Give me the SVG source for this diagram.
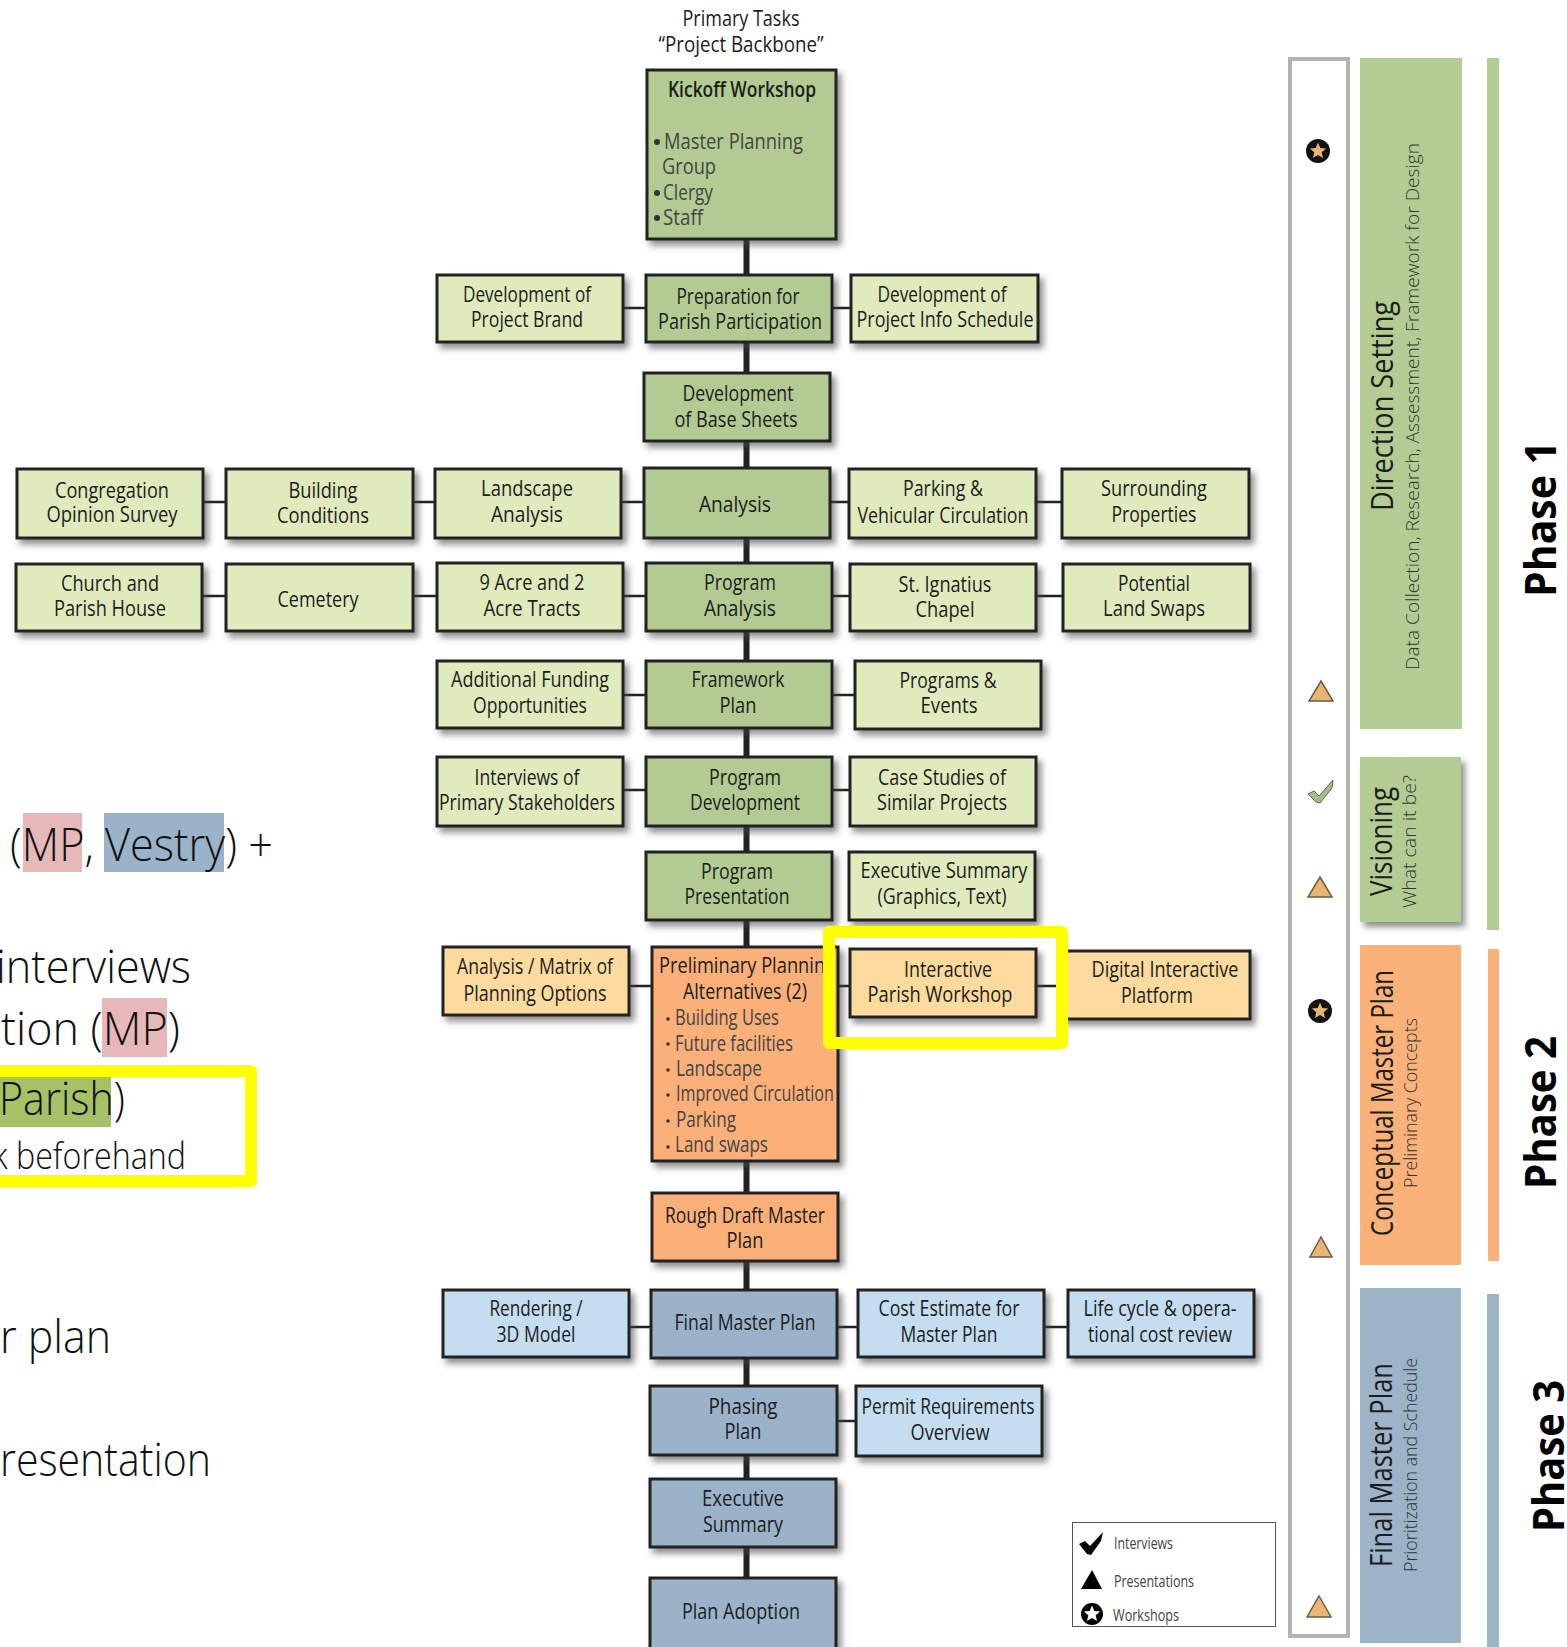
<svg xmlns="http://www.w3.org/2000/svg" xmlns:xlink="http://www.w3.org/1999/xlink" width="1567" height="1647" viewBox="0 0 1567 1647">
<style>
text{font-family:"Open Sans","Liberation Sans",sans-serif;fill:#1c1c1c}
.t{font-size:21px;text-anchor:middle}
.b{font-size:21px;fill:#444}
.box{stroke:#222;stroke-width:3;filter:url(#sh)}
.dg{fill:#B2CB93}.lg{fill:#E0EBBD}.do{fill:#FBB07A}.lo{fill:#FDDB9E}.db{fill:#9AB3C8}.lb{fill:#C5DDF0}
.spine{stroke:#222;stroke-width:6;fill:none}
.link{stroke:#222;stroke-width:2.5;fill:none}
.yel{fill:none;stroke:#FFFF00;stroke-width:12;stroke-linejoin:round}
.big{font-size:46px;font-weight:300;fill:#111}
.rt{font-size:31px;font-weight:500}
.rs{font-size:19px;font-weight:300;fill:#333}
.ph{font-size:43px;font-weight:700;fill:#000}
.lt{font-size:16px;fill:#444}
.tri{fill:#E9B572;stroke:#6B5A48;stroke-width:1.5}
</style>
<defs>
<filter id="sh" x="-10%" y="-15%" width="125%" height="135%"><feDropShadow dx="4" dy="5" stdDeviation="3" flood-color="#444" flood-opacity=".6"/></filter>
<polygon id="star" points="0,-8.5 2.3,-3.1 8.1,-2.6 3.7,1.2 5,6.9 0,3.9 -5,6.9 -3.7,1.2 -8.1,-2.6 -2.3,-3.1"/>
</defs>
<rect width="1567" height="1647" fill="#fff"/>

<g id="left-text">
<rect x="23" y="813" width="59" height="59" fill="#E6B8B7"/>
<rect x="104" y="813" width="120" height="59" fill="#9AB3C8"/>
<rect x="102" y="998" width="65" height="59" fill="#E6B8B7"/>
<rect x="0" y="1077" width="111" height="50" fill="#A5C267"/>
<text class="big" x="10" y="861" textLength="263" lengthAdjust="spacingAndGlyphs">(MP, Vestry) +</text>
<text class="big" x="-4" y="983" textLength="195" lengthAdjust="spacingAndGlyphs">interviews</text>
<text class="big" x="1" y="1045" textLength="179" lengthAdjust="spacingAndGlyphs">tion (MP)</text>
<text class="big" x="-1" y="1115" textLength="126" lengthAdjust="spacingAndGlyphs">Parish)</text>
<text class="big" x="-8" y="1169" textLength="194" lengthAdjust="spacingAndGlyphs" style="font-size:36px">k beforehand</text>
<text class="big" x="0" y="1353" textLength="111" lengthAdjust="spacingAndGlyphs">r plan</text>
<text class="big" x="0" y="1476" textLength="211" lengthAdjust="spacingAndGlyphs">resentation</text>
</g>

<g id="connectors">
<path class="spine" d="M746.5 239V275M746.5 342V373M746.5 441V468M746.5 538V563M746.5 631V661M746.5 728V757M746.5 826V852M746.5 920V947M746.5 1161V1193M746.5 1261V1290M746.5 1358V1386M746.5 1455V1479M746.5 1547V1578"/>
<path class="link" d="M623 308H646M832 308H851M203 502H226M413 502H435M621 502H644M830 502H849M1036 502H1062M202 596H226M413 596H437M623 596H646M832 596H850M1036 596H1063M623 695H646M832 695H855M623 790H646M832 790H850M629 986H652M838 986H850M1036 986H1063M629 1327H651M837 1327H858M1044 1327H1068M837 1421H856"/>
</g>

<g id="kickoff"><rect class="box dg" x="647" y="70" width="189" height="169"/>
<text class="t" x="742" y="97" textLength="148" lengthAdjust="spacingAndGlyphs" style="font-weight:600">Kickoff Workshop</text>
<circle cx="657" cy="142" r="3" fill="#333"/><circle cx="657" cy="193" r="3" fill="#333"/><circle cx="657" cy="218" r="3" fill="#333"/>
<text class="b" x="664" y="149" textLength="139" lengthAdjust="spacingAndGlyphs">Master Planning</text>
<text class="b" x="662" y="174" textLength="54" lengthAdjust="spacingAndGlyphs">Group</text>
<text class="b" x="663" y="200" textLength="50" lengthAdjust="spacingAndGlyphs">Clergy</text>
<text class="b" x="663" y="225" textLength="40" lengthAdjust="spacingAndGlyphs">Staff</text></g>
<g id="title"><text class="t" x="741" y="26" textLength="117" lengthAdjust="spacingAndGlyphs">Primary Tasks</text>
<text class="t" x="741" y="52" textLength="165" lengthAdjust="spacingAndGlyphs">“Project Backbone”</text></g>

<g id="prep"><rect class="box dg" x="646" y="275" width="186" height="67"/><text class="t" x="738" y="304" textLength="123" lengthAdjust="spacingAndGlyphs">Preparation for</text><text class="t" x="740" y="329" textLength="164" lengthAdjust="spacingAndGlyphs">Parish Participation</text></g>
<g id="brand"><rect class="box lg" x="437" y="275" width="186" height="67"/><text class="t" x="527" y="302" textLength="128" lengthAdjust="spacingAndGlyphs">Development of</text><text class="t" x="527" y="327" textLength="112" lengthAdjust="spacingAndGlyphs">Project Brand</text></g>
<g id="info"><rect class="box lg" x="851" y="275" width="187" height="67"/><text class="t" x="942" y="302" textLength="129" lengthAdjust="spacingAndGlyphs">Development of</text><text class="t" x="945" y="327" textLength="177" lengthAdjust="spacingAndGlyphs">Project Info Schedule</text></g>
<g id="base"><rect class="box dg" x="644" y="373" width="186" height="68"/><text class="t" x="738" y="401" textLength="111" lengthAdjust="spacingAndGlyphs">Development</text><text class="t" x="736" y="427" textLength="123" lengthAdjust="spacingAndGlyphs">of Base Sheets</text></g>

<g id="analysis"><rect class="box dg" x="644" y="468" width="186" height="70"/><text class="t" x="735" y="512" textLength="72" lengthAdjust="spacingAndGlyphs">Analysis</text></g>
<g id="landscape"><rect class="box lg" x="435" y="469" width="186" height="69"/><text class="t" x="527" y="496" textLength="92" lengthAdjust="spacingAndGlyphs">Landscape</text><text class="t" x="527" y="522" textLength="72" lengthAdjust="spacingAndGlyphs">Analysis</text></g>
<g id="building"><rect class="box lg" x="226" y="469" width="187" height="69"/><text class="t" x="323" y="498" textLength="69" lengthAdjust="spacingAndGlyphs">Building</text><text class="t" x="323" y="523" textLength="92" lengthAdjust="spacingAndGlyphs">Conditions</text></g>
<g id="congregation"><rect class="box lg" x="17" y="469" width="186" height="69"/><text class="t" x="112" y="498" textLength="114" lengthAdjust="spacingAndGlyphs">Congregation</text><text class="t" x="112" y="522" textLength="131" lengthAdjust="spacingAndGlyphs">Opinion Survey</text></g>
<g id="parking"><rect class="box lg" x="849" y="469" width="187" height="69"/><text class="t" x="943" y="496" textLength="80" lengthAdjust="spacingAndGlyphs">Parking &amp;</text><text class="t" x="943" y="523" textLength="171" lengthAdjust="spacingAndGlyphs">Vehicular Circulation</text></g>
<g id="surrounding"><rect class="box lg" x="1062" y="469" width="187" height="69"/><text class="t" x="1154" y="496" textLength="106" lengthAdjust="spacingAndGlyphs">Surrounding</text><text class="t" x="1154" y="522" textLength="85" lengthAdjust="spacingAndGlyphs">Properties</text></g>

<g id="program-analysis"><rect class="box dg" x="646" y="563" width="186" height="68"/><text class="t" x="740" y="590" textLength="72" lengthAdjust="spacingAndGlyphs">Program</text><text class="t" x="740" y="616" textLength="72" lengthAdjust="spacingAndGlyphs">Analysis</text></g>
<g id="tracts"><rect class="box lg" x="437" y="563" width="186" height="68"/><text class="t" x="532" y="590" textLength="105" lengthAdjust="spacingAndGlyphs">9 Acre and 2</text><text class="t" x="532" y="616" textLength="97" lengthAdjust="spacingAndGlyphs">Acre Tracts</text></g>
<g id="cemetery"><rect class="box lg" x="226" y="564" width="187" height="67"/><text class="t" x="318" y="607" textLength="81" lengthAdjust="spacingAndGlyphs">Cemetery</text></g>
<g id="church"><rect class="box lg" x="16" y="564" width="186" height="67"/><text class="t" x="110" y="591" textLength="98" lengthAdjust="spacingAndGlyphs">Church and</text><text class="t" x="110" y="616" textLength="112" lengthAdjust="spacingAndGlyphs">Parish House</text></g>
<g id="chapel"><rect class="box lg" x="850" y="564" width="186" height="67"/><text class="t" x="945" y="592" textLength="93" lengthAdjust="spacingAndGlyphs">St. Ignatius</text><text class="t" x="945" y="617" textLength="59" lengthAdjust="spacingAndGlyphs">Chapel</text></g>
<g id="swaps"><rect class="box lg" x="1063" y="564" width="187" height="67"/><text class="t" x="1154" y="591" textLength="72" lengthAdjust="spacingAndGlyphs">Potential</text><text class="t" x="1154" y="616" textLength="102" lengthAdjust="spacingAndGlyphs">Land Swaps</text></g>

<g id="framework"><rect class="box dg" x="646" y="661" width="186" height="67"/><text class="t" x="738" y="687" textLength="93" lengthAdjust="spacingAndGlyphs">Framework</text><text class="t" x="738" y="713" textLength="37" lengthAdjust="spacingAndGlyphs">Plan</text></g>
<g id="funding"><rect class="box lg" x="437" y="661" width="186" height="67"/><text class="t" x="530" y="687" textLength="158" lengthAdjust="spacingAndGlyphs">Additional Funding</text><text class="t" x="530" y="713" textLength="114" lengthAdjust="spacingAndGlyphs">Opportunities</text></g>
<g id="events"><rect class="box lg" x="855" y="661" width="186" height="68"/><text class="t" x="948" y="688" textLength="97" lengthAdjust="spacingAndGlyphs">Programs &amp;</text><text class="t" x="949" y="713" textLength="57" lengthAdjust="spacingAndGlyphs">Events</text></g>

<g id="program-dev"><rect class="box dg" x="646" y="757" width="186" height="69"/><text class="t" x="745" y="785" textLength="72" lengthAdjust="spacingAndGlyphs">Program</text><text class="t" x="745" y="810" textLength="110" lengthAdjust="spacingAndGlyphs">Development</text></g>
<g id="stakeholders"><rect class="box lg" x="437" y="757" width="186" height="69"/><text class="t" x="527" y="785" textLength="105" lengthAdjust="spacingAndGlyphs">Interviews of</text><text class="t" x="527" y="810" textLength="176" lengthAdjust="spacingAndGlyphs">Primary Stakeholders</text></g>
<g id="case"><rect class="box lg" x="850" y="757" width="186" height="69"/><text class="t" x="942" y="785" textLength="128" lengthAdjust="spacingAndGlyphs">Case Studies of</text><text class="t" x="942" y="810" textLength="130" lengthAdjust="spacingAndGlyphs">Similar Projects</text></g>

<g id="presentation"><rect class="box dg" x="646" y="852" width="186" height="68"/><text class="t" x="737" y="879" textLength="72" lengthAdjust="spacingAndGlyphs">Program</text><text class="t" x="737" y="904" textLength="105" lengthAdjust="spacingAndGlyphs">Presentation</text></g>
<g id="summary"><rect class="box lg" x="849" y="852" width="186" height="68"/><text class="t" x="944" y="878" textLength="167" lengthAdjust="spacingAndGlyphs">Executive Summary</text><text class="t" x="942" y="904" textLength="129" lengthAdjust="spacingAndGlyphs">(Graphics, Text)</text></g>

<g id="prelim"><rect class="box do" x="652" y="947" width="186" height="214"/>
<text class="t" x="747" y="973" textLength="176" lengthAdjust="spacingAndGlyphs">Preliminary Planning</text><text class="t" x="745" y="999" textLength="124" lengthAdjust="spacingAndGlyphs">Alternatives (2)</text>
<g fill="#333"><circle cx="668" cy="1019" r="1.8"/><circle cx="668" cy="1044" r="1.8"/><circle cx="668" cy="1070" r="1.8"/><circle cx="668" cy="1095" r="1.8"/><circle cx="668" cy="1121" r="1.8"/><circle cx="668" cy="1147" r="1.8"/></g>
<text class="b" x="675" y="1025" textLength="104" lengthAdjust="spacingAndGlyphs">Building Uses</text>
<text class="b" x="675" y="1051" textLength="118" lengthAdjust="spacingAndGlyphs">Future facilities</text>
<text class="b" x="676" y="1076" textLength="86" lengthAdjust="spacingAndGlyphs">Landscape</text>
<text class="b" x="676" y="1101" textLength="158" lengthAdjust="spacingAndGlyphs">Improved Circulation</text>
<text class="b" x="676" y="1127" textLength="60" lengthAdjust="spacingAndGlyphs">Parking</text>
<text class="b" x="675" y="1152" textLength="93" lengthAdjust="spacingAndGlyphs">Land swaps</text></g>
<g id="matrix"><rect class="box lo" x="443" y="947" width="186" height="68"/><text class="t" x="535" y="974" textLength="156" lengthAdjust="spacingAndGlyphs">Analysis / Matrix of</text><text class="t" x="535" y="1001" textLength="143" lengthAdjust="spacingAndGlyphs">Planning Options</text></g>
<g id="platform"><rect class="box lo" x="1063" y="951" width="187" height="68"/><text class="t" x="1165" y="977" textLength="147" lengthAdjust="spacingAndGlyphs">Digital Interactive</text><text class="t" x="1157" y="1003" textLength="72" lengthAdjust="spacingAndGlyphs">Platform</text></g>
<g id="workshop"><rect class="box lo" x="850" y="949" width="186" height="68"/><text class="t" x="948" y="977" textLength="88" lengthAdjust="spacingAndGlyphs">Interactive</text><text class="t" x="940" y="1002" textLength="145" lengthAdjust="spacingAndGlyphs">Parish Workshop</text></g>

<g id="rough"><rect class="box do" x="652" y="1193" width="186" height="68"/><text class="t" x="745" y="1223" textLength="160" lengthAdjust="spacingAndGlyphs">Rough Draft Master</text><text class="t" x="745" y="1248" textLength="37" lengthAdjust="spacingAndGlyphs">Plan</text></g>
<g id="final"><rect class="box db" x="651" y="1290" width="186" height="68"/><text class="t" x="745" y="1330" textLength="141" lengthAdjust="spacingAndGlyphs">Final Master Plan</text></g>
<g id="rendering"><rect class="box lb" x="443" y="1290" width="186" height="67"/><text class="t" x="536" y="1316" textLength="93" lengthAdjust="spacingAndGlyphs">Rendering /</text><text class="t" x="536" y="1342" textLength="79" lengthAdjust="spacingAndGlyphs">3D Model</text></g>
<g id="cost"><rect class="box lb" x="858" y="1290" width="186" height="67"/><text class="t" x="949" y="1316" textLength="141" lengthAdjust="spacingAndGlyphs">Cost Estimate for</text><text class="t" x="949" y="1342" textLength="97" lengthAdjust="spacingAndGlyphs">Master Plan</text></g>
<g id="lifecycle"><rect class="box lb" x="1068" y="1290" width="186" height="67"/><text class="t" x="1160" y="1316" textLength="153" lengthAdjust="spacingAndGlyphs">Life cycle &amp; opera-</text><text class="t" x="1160" y="1342" textLength="144" lengthAdjust="spacingAndGlyphs">tional cost review</text></g>
<g id="phasing"><rect class="box db" x="650" y="1386" width="187" height="69"/><text class="t" x="743" y="1414" textLength="69" lengthAdjust="spacingAndGlyphs">Phasing</text><text class="t" x="743" y="1439" textLength="37" lengthAdjust="spacingAndGlyphs">Plan</text></g>
<g id="permit"><rect class="box lb" x="856" y="1386" width="186" height="70"/><text class="t" x="948" y="1414" textLength="173" lengthAdjust="spacingAndGlyphs">Permit Requirements</text><text class="t" x="950" y="1440" textLength="79" lengthAdjust="spacingAndGlyphs">Overview</text></g>
<g id="exec"><rect class="box db" x="650" y="1479" width="186" height="68"/><text class="t" x="743" y="1506" textLength="82" lengthAdjust="spacingAndGlyphs">Executive</text><text class="t" x="743" y="1532" textLength="80" lengthAdjust="spacingAndGlyphs">Summary</text></g>
<g id="adoption"><rect class="box db" x="650" y="1578" width="186" height="72"/><text class="t" x="741" y="1619" textLength="118" lengthAdjust="spacingAndGlyphs">Plan Adoption</text></g>

<g id="highlights">
<rect class="yel" x="829" y="932" width="233" height="111"/>
<rect class="yel" x="-20" y="1071" width="271" height="110"/>
</g>

<g id="timeline">
<rect x="1290" y="59" width="58" height="1577" fill="#fff" stroke="#B1B3B6" stroke-width="4"/>
<circle cx="1318" cy="151" r="12" fill="#111"/><use xlink:href="#star" href="#star" x="1318" y="151" fill="#E8B56E"/>
<circle cx="1320" cy="1011" r="12" fill="#111"/><use xlink:href="#star" href="#star" x="1320" y="1011" fill="#E8B56E"/>
<polygon class="tri" points="1321,681 1333,701 1309,701"/>
<polygon class="tri" points="1320,877 1332,897 1308,897"/>
<polygon class="tri" points="1321,1237 1332,1257 1310,1257"/>
<polygon class="tri" points="1319,1596 1331,1617 1307,1617"/>
<polygon points="1308,794 1314,791 1319,796 1333,780 1332,788 1320,803 1316,802" fill="#A8BC8A" stroke="#5A6B50"/>
</g>

<g id="phase-bars">
<rect x="1360" y="58" width="102" height="671" fill="#B3CC94"/>
<rect x="1360" y="757" width="101" height="165" fill="#B3CC94" filter="url(#sh)"/>
<rect x="1360" y="945" width="101" height="320" fill="#FBB27A"/>
<rect x="1360" y="1288" width="101" height="355" fill="#9CB3C8"/>
<rect x="1487" y="58" width="12" height="872" fill="#B3CC94"/>
<rect x="1488" y="949" width="11" height="312" fill="#FBB27A"/>
<rect x="1487" y="1294" width="12" height="353" fill="#9CB3C8"/>
<text class="rt" transform="translate(1393,511) rotate(-90)" textLength="210" lengthAdjust="spacingAndGlyphs">Direction Setting</text>
<text class="rs" transform="translate(1419,670) rotate(-90)" textLength="527" lengthAdjust="spacingAndGlyphs">Data Collection, Research, Assessment, Framework for Design</text>
<text class="rt" transform="translate(1392,896) rotate(-90)" textLength="109" lengthAdjust="spacingAndGlyphs">Visioning</text>
<text class="rs" transform="translate(1416,908) rotate(-90)" textLength="133" lengthAdjust="spacingAndGlyphs">What can it be?</text>
<text class="rt" transform="translate(1393,1236) rotate(-90)" textLength="266" lengthAdjust="spacingAndGlyphs">Conceptual Master Plan</text>
<text class="rs" transform="translate(1417,1188) rotate(-90)" textLength="170" lengthAdjust="spacingAndGlyphs">Preliminary Concepts</text>
<text class="rt" transform="translate(1392,1567) rotate(-90)" textLength="204" lengthAdjust="spacingAndGlyphs">Final Master Plan</text>
<text class="rs" transform="translate(1417,1572) rotate(-90)" textLength="214" lengthAdjust="spacingAndGlyphs">Prioritization and Schedule</text>
<text class="ph" transform="translate(1556,597) rotate(-90)" textLength="156" lengthAdjust="spacingAndGlyphs">Phase 1</text>
<text class="ph" transform="translate(1556,1189) rotate(-90)" textLength="153" lengthAdjust="spacingAndGlyphs">Phase 2</text>
<text class="ph" transform="translate(1564,1532) rotate(-90)" textLength="152" lengthAdjust="spacingAndGlyphs">Phase 3</text>
</g>

<g id="legend">
<rect x="1072.5" y="1522.5" width="203" height="104" fill="#fff" stroke="#555" stroke-width="1"/>
<polygon points="1079,1544 1085,1541 1090,1546 1103,1532 1101,1541 1091,1555 1087,1554" fill="#000"/>
<polygon points="1092,1570 1102,1589 1081,1589" fill="#000"/>
<circle cx="1092" cy="1614" r="11" fill="#000"/><use xlink:href="#star" href="#star" x="1092" y="1614" fill="#fff"/>
<text class="lt" x="1114" y="1549" textLength="59" lengthAdjust="spacingAndGlyphs">Interviews</text>
<text class="lt" x="1114" y="1587" textLength="80" lengthAdjust="spacingAndGlyphs">Presentations</text>
<text class="lt" x="1113" y="1621" textLength="66" lengthAdjust="spacingAndGlyphs">Workshops</text>
</g>
</svg>
